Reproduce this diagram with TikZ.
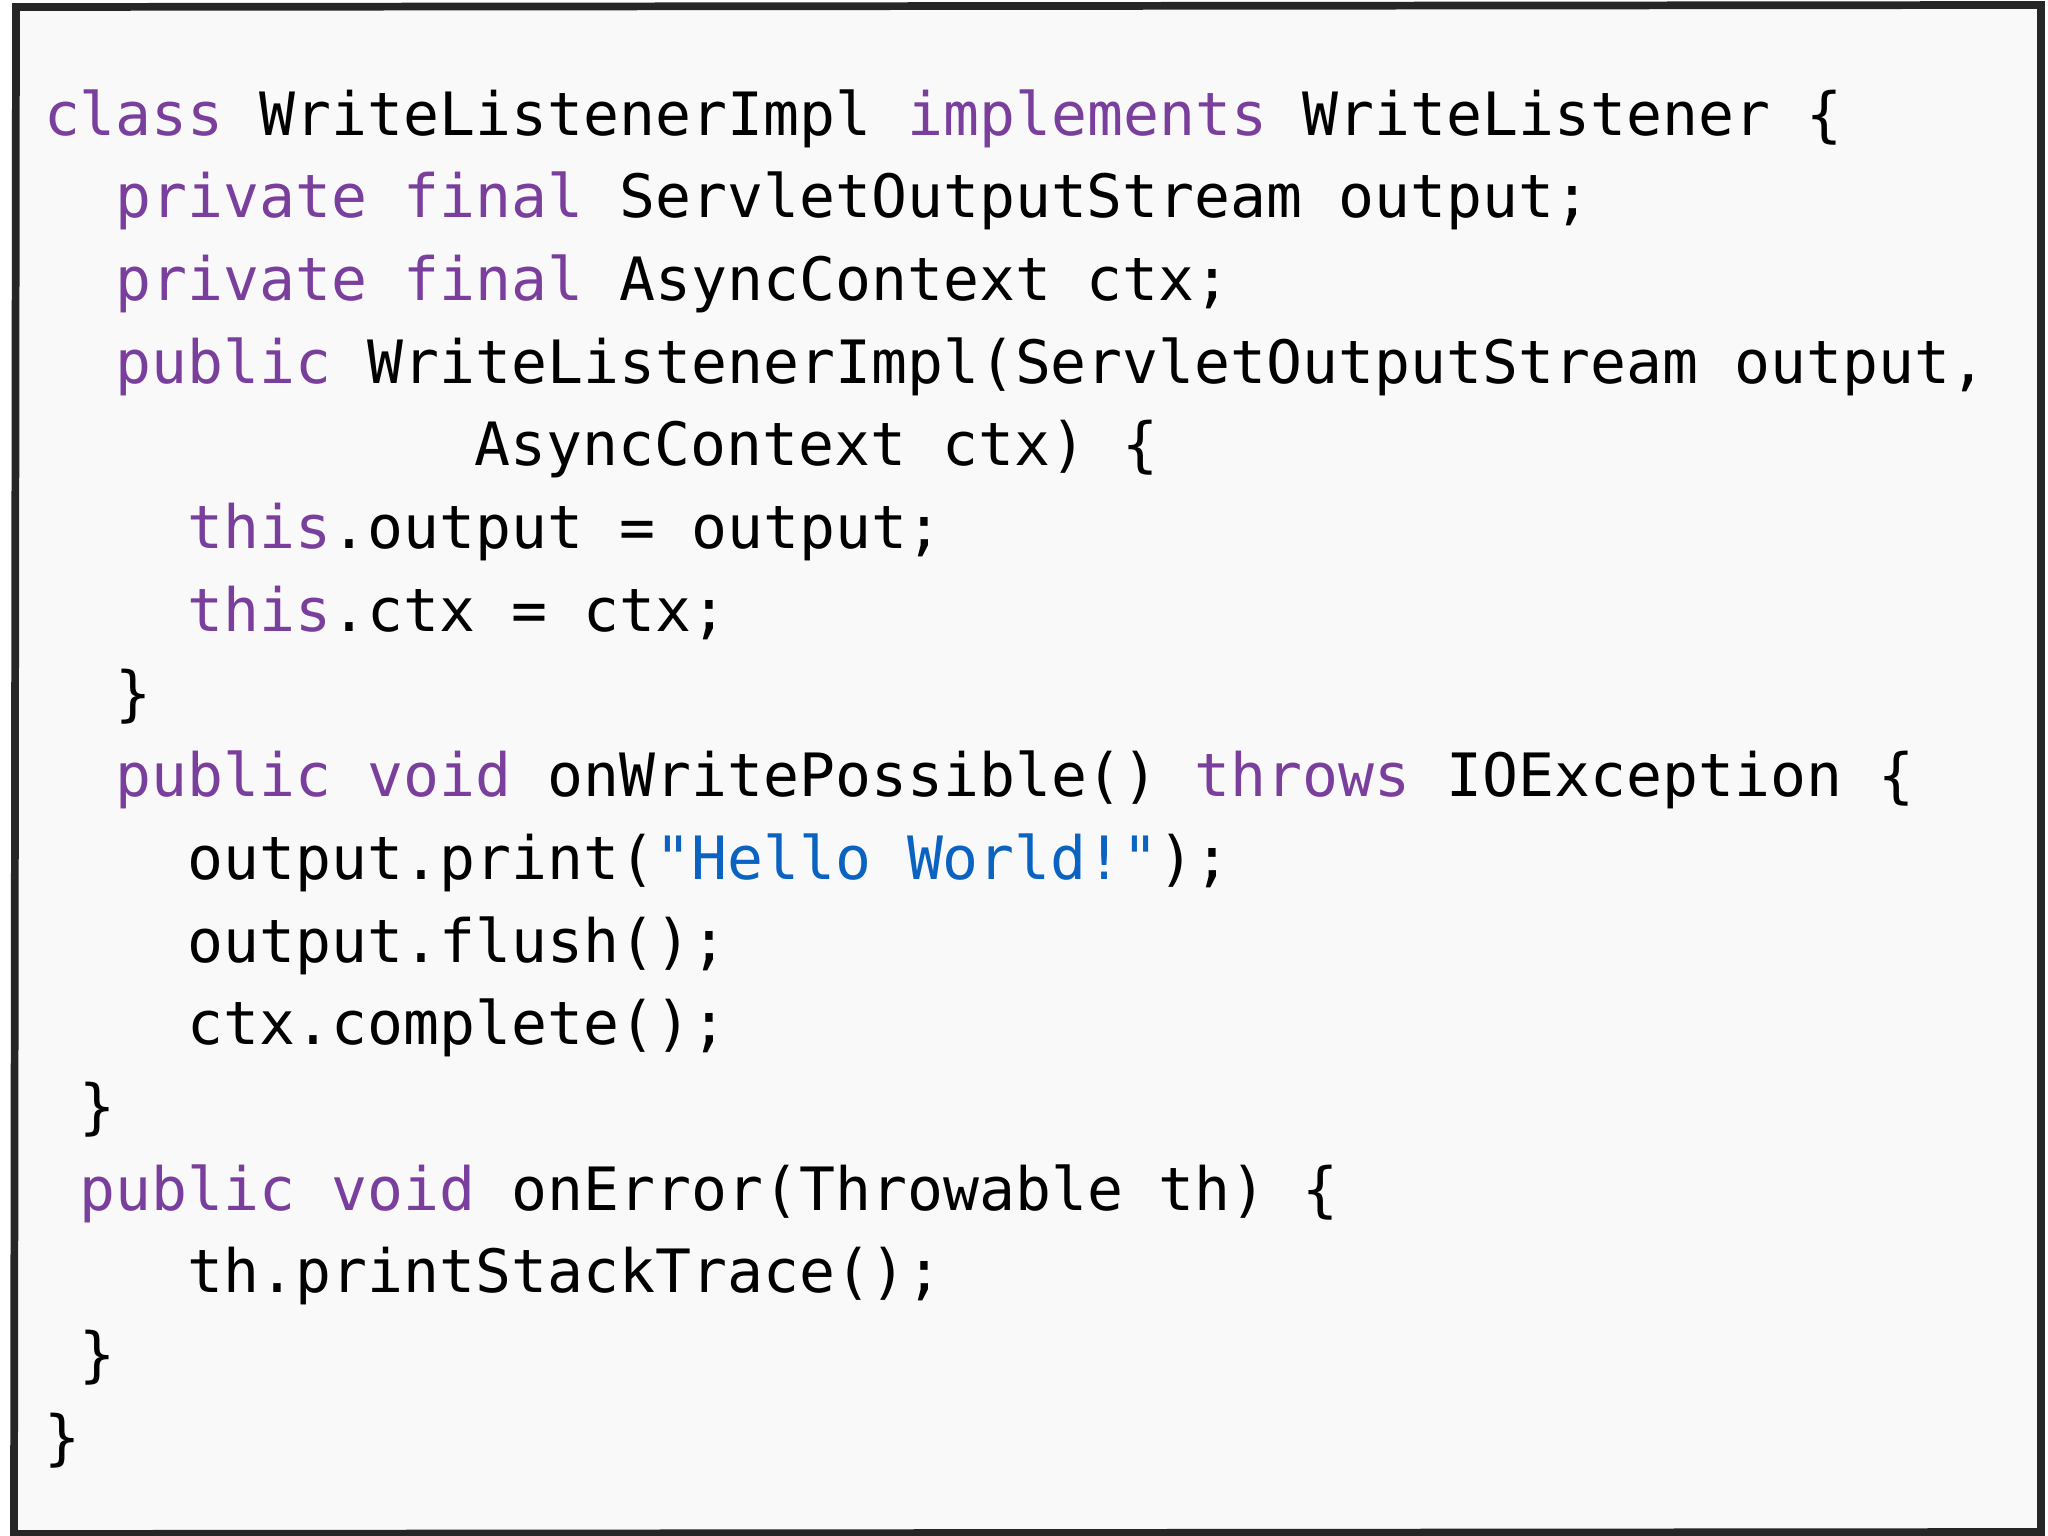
\documentclass[tikz,border=0pt]{standalone}
\usepackage{fontspec}
\setmonofont{DejaVu Sans Mono}
\definecolor{kw}{HTML}{7A3E9D}
\definecolor{str}{HTML}{0B63C1}
\definecolor{bg}{HTML}{F9F9F9}
\newcommand{\kwd}[1]{\textcolor{kw}{#1}}
\tikzset{codeline/.style={anchor=base west,inner sep=0pt,font=\ttfamily\fontsize{17}{20}\selectfont,text=black}}
\begin{document}
\begin{tikzpicture}
\useasboundingbox (0,0) rectangle (20.48,-15.36);
\fill[white] (0,0) rectangle (20.48,-15.36);
\fill[bg] (0.16,-0.07) rectangle (20.41,-15.34);
\draw[line width=2.2pt,black!85] (0.16,-0.07) -- (20.41,-0.05) -- (20.41,-15.32) -- (0.14,-15.34) -- cycle;
\def\cw{0.359}
\def\lh{0.827}
\foreach \n/\ind/\txt in {
1/0/{\kwd{class} WriteListenerImpl \kwd{implements} WriteListener \{},
2/2/{\kwd{private} \kwd{final} ServletOutputStream output;},
3/2/{\kwd{private} \kwd{final} AsyncContext ctx;},
4/2/{\kwd{public} WriteListenerImpl(ServletOutputStream output,},
5/12/{AsyncContext ctx) \{},
6/4/{\kwd{this}.output = output;},
7/4/{\kwd{this}.ctx = ctx;},
8/2/{\}},
9/2/{\kwd{public} \kwd{void} onWritePossible() \kwd{throws} IOException \{},
10/4/{output.print(\textcolor{str}{"Hello World!"});},
11/4/{output.flush();},
12/4/{ctx.complete();},
13/1/{\}},
14/1/{\kwd{public} \kwd{void} onError(Throwable th) \{},
15/4/{th.printStackTrace();},
16/1/{\}},
17/0/{\}}}
{\node[codeline] (l\n) at ({0.433+\ind*\cw},{-1.352-(\n-1)*\lh}) {\txt};}
\end{tikzpicture}
\end{document}
